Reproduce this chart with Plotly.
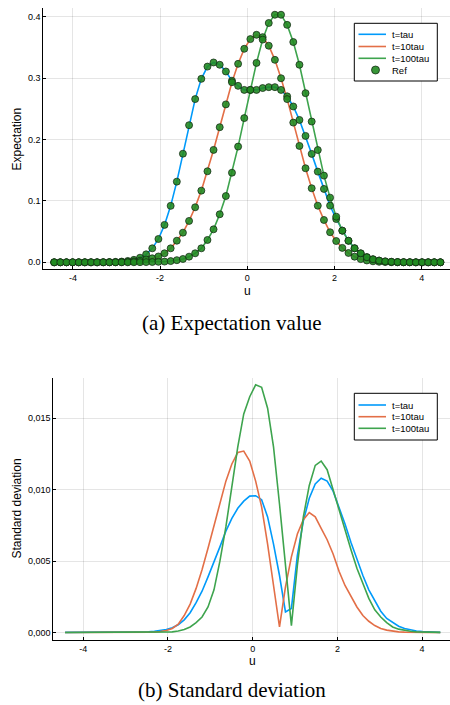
import plotly.graph_objects as go

W, H = 450, 705

u = [-4.430, -4.289, -4.149, -4.008, -3.867, -3.727, -3.586, -3.446, -3.305, -3.164,
     -3.024, -2.883, -2.742, -2.602, -2.461, -2.321, -2.180, -2.039, -1.899, -1.758,
     -1.617, -1.477, -1.336, -1.196, -1.055, -0.914, -0.774, -0.633, -0.492, -0.352,
     -0.211, -0.070, 0.070, 0.211, 0.352, 0.492, 0.633, 0.774, 0.914, 1.055,
     1.196, 1.336, 1.477, 1.617, 1.758, 1.899, 2.039, 2.180, 2.321, 2.461,
     2.602, 2.742, 2.883, 3.024, 3.164, 3.305, 3.446, 3.586, 3.727, 3.867,
     4.008, 4.149, 4.289, 4.430]

exp_tau = [0, 0, 0, 0, 0, 0, 0, 0, 0.0002, 0.0004,
           0.0007, 0.0012, 0.0022, 0.004, 0.0075, 0.013, 0.0228, 0.038, 0.061, 0.092,
           0.1315, 0.177, 0.2235, 0.266, 0.299, 0.319, 0.3257, 0.322, 0.311, 0.296,
           0.2876, 0.281, 0.281, 0.281, 0.284, 0.2855, 0.2855, 0.281, 0.2705, 0.254,
           0.232, 0.206, 0.1767, 0.1478, 0.1196, 0.0924, 0.0706, 0.0516, 0.035, 0.023,
           0.0145, 0.0085, 0.005, 0.0028, 0.0015, 0.0008, 0.0004, 0.0002, 0.0001, 0,
           0, 0, 0, 0]

exp_10tau = [0, 0, 0, 0, 0, 0, 0, 0, 0, 0,
             0.0002, 0.0004, 0.0008, 0.0015, 0.0027, 0.0045, 0.0065, 0.0095, 0.0147, 0.0228,
             0.0352, 0.0483, 0.0674, 0.0897, 0.1168, 0.1484, 0.1832, 0.2202, 0.2574, 0.2935,
             0.3235, 0.348, 0.3638, 0.3708, 0.367, 0.353, 0.330, 0.300, 0.266, 0.2277,
             0.1897, 0.1533, 0.1207, 0.0923, 0.069, 0.049, 0.0347, 0.0235, 0.0152, 0.0092,
             0.0052, 0.003, 0.0016, 0.0008, 0.0004, 0.0002, 0, 0, 0, 0,
             0, 0, 0, 0]

exp_100tau = [0, 0, 0, 0, 0, 0, 0, 0, 0, 0,
              0, 0, 0, 0.0001, 0.0002, 0.0003, 0.0005, 0.0008, 0.0012, 0.002,
              0.0035, 0.0054, 0.0092, 0.0147, 0.0228, 0.0364, 0.0538, 0.0783, 0.108, 0.146,
              0.1886, 0.235, 0.281, 0.325, 0.363, 0.390, 0.4035, 0.4035, 0.387, 0.359,
              0.322, 0.2757, 0.2294, 0.183, 0.1413, 0.1054, 0.0744, 0.0516, 0.0352, 0.0228,
              0.0147, 0.0082, 0.0049, 0.0028, 0.0015, 0.0008, 0.0004, 0.0002, 0.0001, 0,
              0, 0, 0, 0]

std_tau = [0.00002, 0.00002, 0.00002, 0.00002, 0.00002, 0.00002, 0.00002, 0.00002, 0.00002, 0.00002,
           0.00003, 0.00004, 0.00005, 0.00006, 0.00007, 0.0001, 0.00015, 0.00022, 0.00035, 0.00055,
           0.0009, 0.0014, 0.0021, 0.0029, 0.0039, 0.0049, 0.0060, 0.0071, 0.0080, 0.0087,
           0.0092, 0.00955, 0.00958, 0.0093, 0.0081, 0.0062, 0.0040, 0.00145, 0.0017, 0.0054,
           0.0078, 0.0094, 0.0104, 0.0108, 0.0106, 0.0099, 0.0088, 0.0076, 0.0063, 0.0051,
           0.0040, 0.0030, 0.0022, 0.0015, 0.0010, 0.0007, 0.00045, 0.0003, 0.0002, 0.00012,
           0.00008, 0.00005, 0.00003, 0.00002]

std_10tau = [0.00001, 0.00001, 0.00001, 0.00001, 0.00001, 0.00001, 0.00001, 0.00001, 0.00001, 0.00001,
             0.00001, 0.00001, 0.00001, 0.00001, 0.00002, 0.00004, 0.00008, 0.00015, 0.0003, 0.0006,
             0.0012, 0.0020, 0.0031, 0.0044, 0.0059, 0.0075, 0.0091, 0.0106, 0.0118, 0.0126,
             0.0127, 0.0120, 0.0106, 0.0088, 0.0062, 0.0033, 0.0004, 0.0032, 0.0053, 0.0069,
             0.0079, 0.0084, 0.0081, 0.0073, 0.0065, 0.0055, 0.0043, 0.0033, 0.0025, 0.0018,
             0.0012, 0.0008, 0.0005, 0.0003, 0.00018, 0.0001, 0.00006, 0.00004, 0.00002, 0.00002,
             0.00001, 0.00001, 0.00001, 0.00001]

std_100tau = [0.00001, 0.00001, 0.00001, 0.00001, 0.00001, 0.00001, 0.00001, 0.00001, 0.00001, 0.00001,
              0.00001, 0.00001, 0.00001, 0.00001, 0.00001, 0.00001, 0.00002, 0.00003, 0.00006, 0.00012,
              0.00022, 0.0004, 0.0007, 0.0011, 0.0018, 0.0030, 0.0050, 0.0074, 0.0103, 0.0130,
              0.0153, 0.0165, 0.01733, 0.01716, 0.0157, 0.0130, 0.0090, 0.0046, 0.0005, 0.0047,
              0.0081, 0.0103, 0.0117, 0.0120, 0.0114, 0.0100, 0.0086, 0.0071, 0.0058, 0.0045,
              0.0034, 0.0024, 0.0016, 0.0011, 0.0007, 0.0004, 0.00025, 0.00015, 0.0001, 0.00006,
              0.00004, 0.00002, 0.00002, 0.00002]

series_names = ["t=tau", "t=10tau", "t=100tau"]
ref_name = "Ref"
colors = ["#009AFA", "#E36F47", "#3EA44E"]

x_tickvals = [-4, -2, 0, 2, 4]
x_ticktext = ["-4", "-2", "0", "2", "4"]
y1_tickvals = [0.0, 0.1, 0.2, 0.3, 0.4]
y1_ticktext = ["0.0", "0.1", "0.2", "0.3", "0.4"]
y2_tickvals = [0.0, 0.005, 0.010, 0.015]
y2_ticktext = ["0,000", "0,005", "0,010", "0,015"]

captions = ["(a) Expectation value", "(b) Standard deviation"]
ylabels = ["Expectation", "Standard deviation"]
xlabel = "u"

REF_FILL = "rgba(34,139,34,0.9)"
REF_LINE = "rgba(20,40,20,0.75)"

fig = go.Figure()
exp_series = [exp_tau, exp_10tau, exp_100tau]
std_series = [std_tau, std_10tau, std_100tau]

for name, ys, c in zip(series_names, exp_series, colors):
    fig.add_trace(go.Scatter(x=u, y=ys, mode="lines", name=name, showlegend=False,
                             line=dict(color=c, width=1.6), xaxis="x", yaxis="y"))
for ys in exp_series:
    fig.add_trace(go.Scatter(x=u, y=ys, mode="markers", name=ref_name, showlegend=False,
                             marker=dict(size=7, color=REF_FILL,
                                         line=dict(color=REF_LINE, width=1)),
                             xaxis="x", yaxis="y"))
for name, ys, c in zip(series_names, std_series, colors):
    fig.add_trace(go.Scatter(x=u, y=ys, mode="lines", name=name, showlegend=False,
                             line=dict(color=c, width=1.6), xaxis="x2", yaxis="y2"))


def PX(px):
    return px / W


def PY(py):
    return 1 - py / H


tickfont = dict(family="Liberation Sans, Arial, sans-serif", size=9, color="black")
axis_common = dict(showline=True, linecolor="black", linewidth=1, mirror=False,
                   ticks="inside", ticklen=3, tickwidth=1, tickcolor="black",
                   showgrid=True, gridcolor="rgba(0,0,0,0.1)", gridwidth=1,
                   zeroline=False, tickfont=tickfont, tickmode="array")

fig.update_layout(
    width=W, height=H, margin=dict(l=0, r=0, t=0, b=0),
    paper_bgcolor="white", plot_bgcolor="white", showlegend=False,
    xaxis=dict(domain=[PX(43.3), 1], range=[-4.68, 4.65], anchor="y",
               tickvals=x_tickvals, ticktext=x_ticktext, **axis_common),
    yaxis=dict(domain=[PY(269.3), PY(8.3)], range=[-0.0114, 0.414], anchor="x",
               tickvals=y1_tickvals, ticktext=y1_ticktext, **axis_common),
    xaxis2=dict(domain=[PX(53.3), 1], range=[-4.708, 4.659], anchor="y2",
                tickvals=x_tickvals, ticktext=x_ticktext, **axis_common),
    yaxis2=dict(domain=[PY(640), PY(378.3)], range=[-0.00051, 0.01779], anchor="x2",
                tickvals=y2_tickvals, ticktext=y2_ticktext, **axis_common),
)

sans = "Liberation Sans, Arial, sans-serif"
serif = "Liberation Serif, Times New Roman, serif"
ann = []


def label(text, px, py, font, angle=0, xanchor="center"):
    ann.append(dict(text=text, x=PX(px), y=PY(py), xref="paper", yref="paper",
                    xanchor=xanchor, yanchor="middle", showarrow=False,
                    textangle=angle, font=font))


capfont = dict(family=serif, size=21, color="black")
titlefont = dict(family=sans, size=12, color="black")
label(captions[0], 232, 323, capfont)
label(captions[1], 232, 690, capfont)
label(ylabels[0], 16.5, 139, titlefont, angle=-90)
label(ylabels[1], 16.5, 509, titlefont, angle=-90)
label(xlabel, 247, 291, titlefont)
label(xlabel, 252.7, 661, titlefont)

shapes = []
legfont = dict(family=sans, size=9.5, color="black")


def legend(box, rows, labels):
    x0, y0, x1, y1 = box
    shapes.append(dict(type="rect", xref="paper", yref="paper",
                       x0=PX(x0), x1=PX(x1), y0=PY(y1), y1=PY(y0),
                       line=dict(color="black", width=1), fillcolor="white", layer="above"))
    for i, lab in enumerate(labels):
        ry = rows[i]
        if i < 3:
            shapes.append(dict(type="line", xref="paper", yref="paper",
                               x0=PX(358.5), x1=PX(386), y0=PY(ry), y1=PY(ry),
                               line=dict(color=colors[i], width=1.6), layer="above"))
        else:
            shapes.append(dict(type="circle", xref="paper", yref="paper",
                               x0=PX(371.5), x1=PX(379.5), y0=PY(ry + 4), y1=PY(ry - 4),
                               fillcolor=REF_FILL, line=dict(color=REF_LINE, width=1),
                               layer="above"))
        label(lab, 389.5, ry, legfont, xanchor="left")


legend((354.3, 23.3, 437.3, 81.0), [34.3, 46.5, 58.3, 70.0], series_names + [ref_name])
legend((354.3, 393.3, 437.3, 440.0), [405.0, 416.7, 428.3], series_names)

fig.update_layout(annotations=ann, shapes=shapes)
fig.write_html("out.html", config={"displayModeBar": False},
               post_script="document.body.style.margin='0';document.body.style.padding='0';")
